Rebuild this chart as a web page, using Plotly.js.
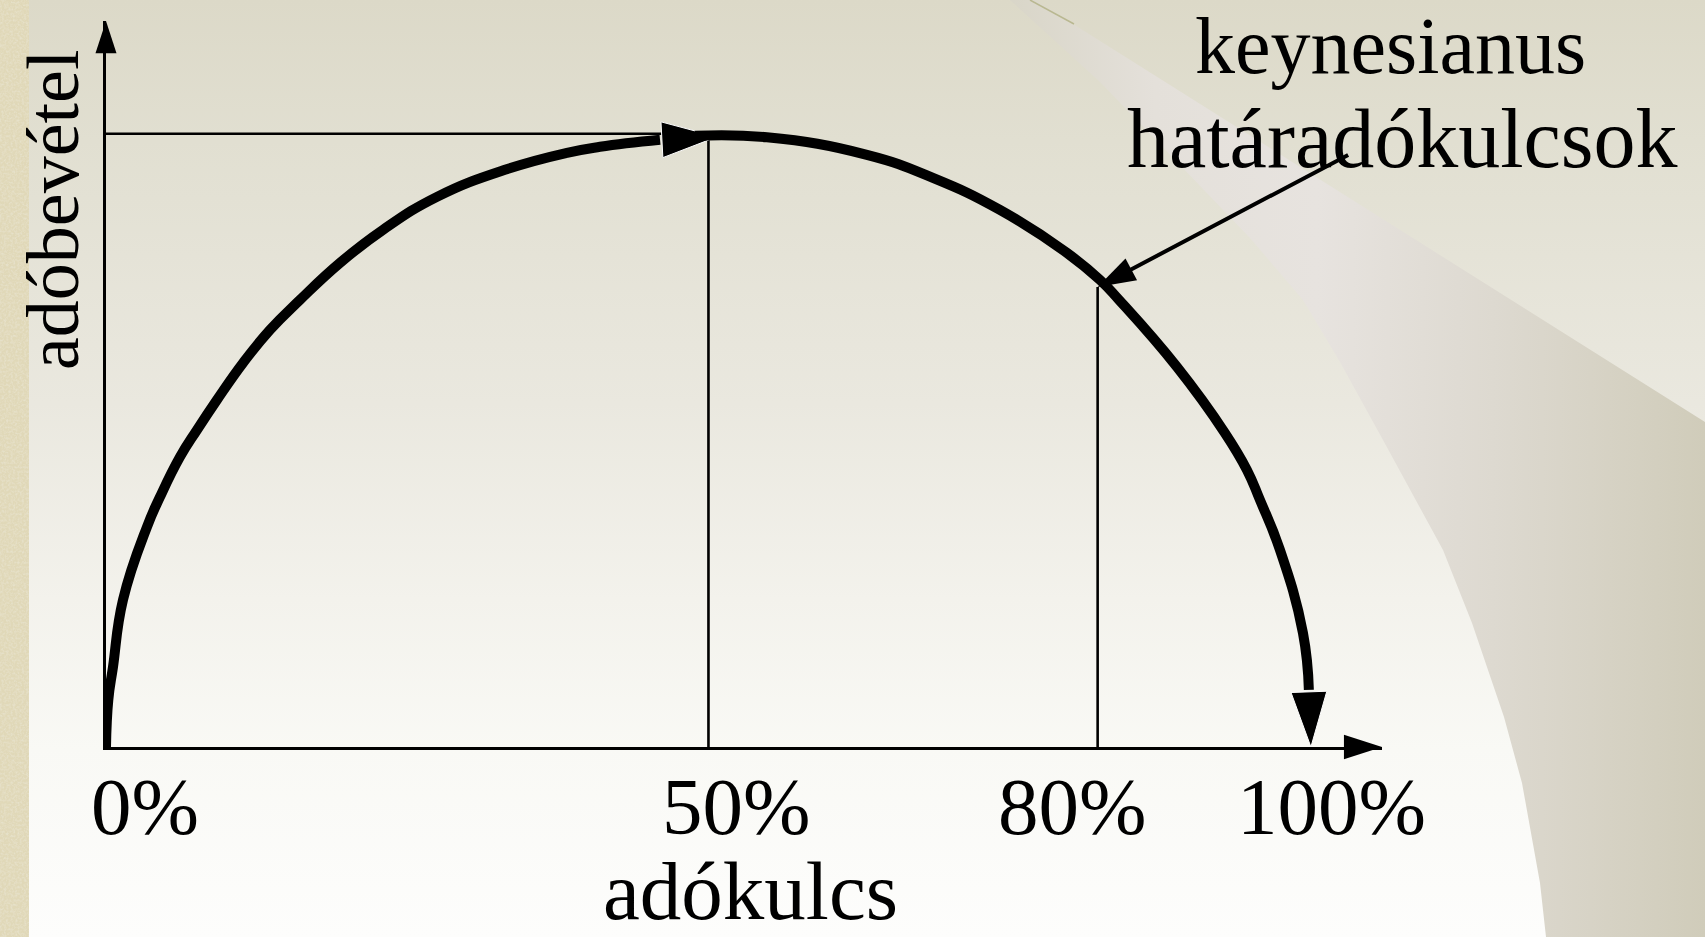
<!DOCTYPE html>
<html>
<head>
<meta charset="utf-8">
<script src="https://cdn.plot.ly/plotly-3.0.1.min.js"></script>
<style>
html,body{margin:0;padding:0;width:1705px;height:937px;overflow:hidden;background:#fdfdfb;}
#bg{position:absolute;left:0;top:0;}
#chart{position:absolute;left:0;top:0;width:1705px;height:937px;}
</style>
</head>
<body>
<svg id="bg" width="1705" height="937" xmlns="http://www.w3.org/2000/svg">
  <defs>
    <linearGradient id="pageGrad" x1="0" y1="0" x2="0" y2="937" gradientUnits="userSpaceOnUse">
      <stop offset="0" stop-color="#dcd9c8"/>
      <stop offset="0.15" stop-color="#e1dfd1"/>
      <stop offset="0.43" stop-color="#eae8df"/>
      <stop offset="0.64" stop-color="#f3f2ec"/>
      <stop offset="0.8" stop-color="#f9f9f5"/>
      <stop offset="1" stop-color="#fdfdfc"/>
    </linearGradient>
    <linearGradient id="wedgeGrad" x1="1000" y1="0" x2="1705" y2="0" gradientUnits="userSpaceOnUse">
      <stop offset="0" stop-color="#d8d5c7"/>
      <stop offset="0.22" stop-color="#e4e0da"/>
      <stop offset="0.45" stop-color="#e7e3df"/>
      <stop offset="0.7" stop-color="#ddd9d0"/>
      <stop offset="1" stop-color="#d0ccba"/>
    </linearGradient>
    <filter id="grain" x="0" y="0" width="100%" height="100%">
      <feTurbulence type="fractalNoise" baseFrequency="0.45" numOctaves="3" seed="7"/>
      <feColorMatrix type="matrix" values="0 0 0 0 0.80  0 0 0 0 0.76  0 0 0 0 0.60  0 0 0 2.2 -0.85"/>
    </filter>
  </defs>
  <rect x="0" y="0" width="1705" height="937" fill="url(#pageGrad)"/>
  <path d="M1035,0 L1705,422 L1705,937 L1546,937 L1540,883 L1522,783 L1504,717 L1472,623 L1443,550 L1383,440 L1340,362 L1303,300 L1250,238 L1180,165 L1100,82 L1010,0 Z" fill="url(#wedgeGrad)"/>
  <line x1="1030" y1="0" x2="1074" y2="24" stroke="#b9b891" stroke-width="1.5"/>
  <rect x="0" y="0" width="29" height="937" fill="#e0d8b8"/>
  <rect x="0" y="0" width="29" height="937" filter="url(#grain)" opacity="0.9"/>
</svg>
<div id="chart"></div>
<script>
// ---------- data ----------
const rateTicks = [0, 50, 80, 100];
const rateTickLabels = ['0%', '50%', '80%', '100%'];

// rising branch of the Laffer curve (tax rate %, tax revenue index)
const risingRate    = [0, 0.19, 0.58, 1.41, 3.40, 4.48, 6.14, 7.55, 9.21, 11.37, 13.61, 16.10, 19.42, 22.99, 27.47, 33.11, 38.26, 41.00, 45.98, 50.71];
const risingRevenue = [0, 7.67, 13.05, 23.98, 35.89, 40.78, 47.31, 51.71, 56.61, 62.64, 68.03, 72.92, 78.96, 84.34, 89.72, 94.13, 96.90, 97.88, 99.02, 99.51];

// falling branch
const fallingRate    = [48.88, 54.85, 63.15, 68.63, 74.19, 79.75, 82.49, 84.07, 88.88, 92.86, 94.69, 95.77, 97.43, 99.34, 99.83, 100];
const fallingRevenue = [99.67, 99.43, 96.57, 92.82, 87.60, 80.59, 76.18, 72.92, 61.99, 51.22, 45.19, 40.29, 32.14, 18.60, 9.30, 0];

const peakRate = 50, peakRevenue = 100;
const keynesRate = 82.3, keynesRevenue = 75;

const xTitle = 'adókulcs';
const yTitle = 'adóbevétel';
const calloutLines = ['keynesianus', 'határadókulcsok'];

// ---------- layout geometry ----------
const FIG_W = 1705, FIG_H = 937;
const M = {l: 106, r: 323, t: 21, b: 190};
const PW = FIG_W - M.l - M.r, PH = FIG_H - M.t - M.b;
const xMax = 105.9, yMax = 118.4;
const FONT = 'Liberation Serif, Times New Roman, serif';
const INK = '#000000';

const px2paperX = px => (px - M.l) / PW;
const px2paperY = py => (M.t + PH - py) / PH;
// centre of a single-line text box given its baseline
const centreFromBaseline = (baseline, size) => baseline - 0.3375 * size;

const thin = 2.6, thick = 10;

// a curve branch: smooth line up to the arrow base, then an arrowhead to the final point
function branch(xs, ys, headSize) {
  const n = xs.length;
  return [
    {x: xs.slice(0, n - 1), y: ys.slice(0, n - 1), mode: 'lines',
     line: {color: INK, width: thick, shape: 'spline', smoothing: 1.3, simplify: false},
     cliponaxis: false, hoverinfo: 'skip'},
    {x: xs.slice(n - 2), y: ys.slice(n - 2), mode: 'markers',
     marker: {symbol: 'arrow', angleref: 'previous', size: [0, headSize], color: INK, opacity: 1},
     cliponaxis: false, hoverinfo: 'skip'}
  ];
}

const traces = [
  // peak guide: y-axis -> peak -> x-axis
  {x: [0, peakRate, peakRate], y: [peakRevenue, peakRevenue, 0], mode: 'lines',
   line: {color: INK, width: thin}, cliponaxis: false, hoverinfo: 'skip'},
  // keynesian rate guide
  {x: [keynesRate, keynesRate], y: [0, keynesRevenue], mode: 'lines',
   line: {color: INK, width: thin}, cliponaxis: false, hoverinfo: 'skip'},
  ...branch(risingRate, risingRevenue, 58),
  ...branch(fallingRate, fallingRevenue, 58),
  // axis arrowheads
  {x: [xMax], y: [0], mode: 'markers',
   marker: {symbol: 'arrow', angle: 90, size: 40, color: INK, opacity: 1}, cliponaxis: false, hoverinfo: 'skip'},
  {x: [0], y: [yMax], mode: 'markers',
   marker: {symbol: 'arrow', angle: 0, size: 34, color: INK, opacity: 1}, cliponaxis: false, hoverinfo: 'skip'}
];

// callout pointer (line from label to the curve)
const pointerAx = 252, pointerAy = -133;
const pointerAngle = Math.atan2(-pointerAx, pointerAy) * 180 / Math.PI;
traces.push({x: [keynesRate], y: [keynesRevenue], mode: 'markers',
  marker: {symbol: 'arrow', angle: pointerAngle, size: 40, color: INK, opacity: 1},
  cliponaxis: false, hoverinfo: 'skip'});

const annotations = [];

// tick labels
const tickSize = 81;
const tickShift = [39, 28, 2, 21];
rateTicks.forEach((v, i) => {
  annotations.push({
    x: v, xref: 'x', xshift: tickShift[i],
    y: px2paperY(centreFromBaseline(834, tickSize)), yref: 'paper',
    xanchor: 'center', yanchor: 'middle', showarrow: false,
    text: rateTickLabels[i], font: {family: FONT, size: tickSize, color: INK}
  });
});

// x title
const xtSize = 83;
annotations.push({
  x: px2paperX(751), xref: 'paper',
  y: px2paperY(centreFromBaseline(919, xtSize)), yref: 'paper',
  xanchor: 'center', yanchor: 'middle', showarrow: false,
  text: xTitle, font: {family: FONT, size: xtSize, color: INK}
});

// y title (rotated)
const ytSize = 74;
annotations.push({
  x: px2paperX(78 - 0.3375 * ytSize), xref: 'paper',
  y: px2paperY(210), yref: 'paper',
  xanchor: 'center', yanchor: 'middle', showarrow: false, textangle: -90,
  text: yTitle, font: {family: FONT, size: ytSize, color: INK}
});

// callout text
const coSize = [80, 84];
const coCentreX = [1390, 1402], coBase = [73, 167];
calloutLines.forEach((t, i) => {
  annotations.push({
    x: px2paperX(coCentreX[i]), xref: 'paper',
    y: px2paperY(centreFromBaseline(coBase[i], coSize[i])), yref: 'paper',
    xanchor: 'center', yanchor: 'middle', showarrow: false,
    text: t, font: {family: FONT, size: coSize[i], color: INK}
  });
});

// pointer line
annotations.push({
  x: keynesRate, y: keynesRevenue, xref: 'x', yref: 'y',
  text: ' ', showarrow: true, arrowhead: 0, arrowwidth: 4, arrowcolor: INK,
  ax: pointerAx, ay: pointerAy, standoff: 18, font: {size: 1}
});

const layout = {
  width: FIG_W, height: FIG_H, autosize: false,
  margin: M,
  paper_bgcolor: 'rgba(0,0,0,0)', plot_bgcolor: 'rgba(0,0,0,0)',
  showlegend: false,
  xaxis: {range: [0, xMax], showline: true, linecolor: INK, linewidth: thin,
          showgrid: false, zeroline: false, showticklabels: false, ticks: '', fixedrange: true},
  yaxis: {range: [0, yMax], showline: true, linecolor: INK, linewidth: thin,
          showgrid: false, zeroline: false, showticklabels: false, ticks: '', fixedrange: true},
  annotations: annotations
};

Plotly.newPlot('chart', traces, layout, {displayModeBar: false, staticPlot: true});
</script>
</body>
</html>
